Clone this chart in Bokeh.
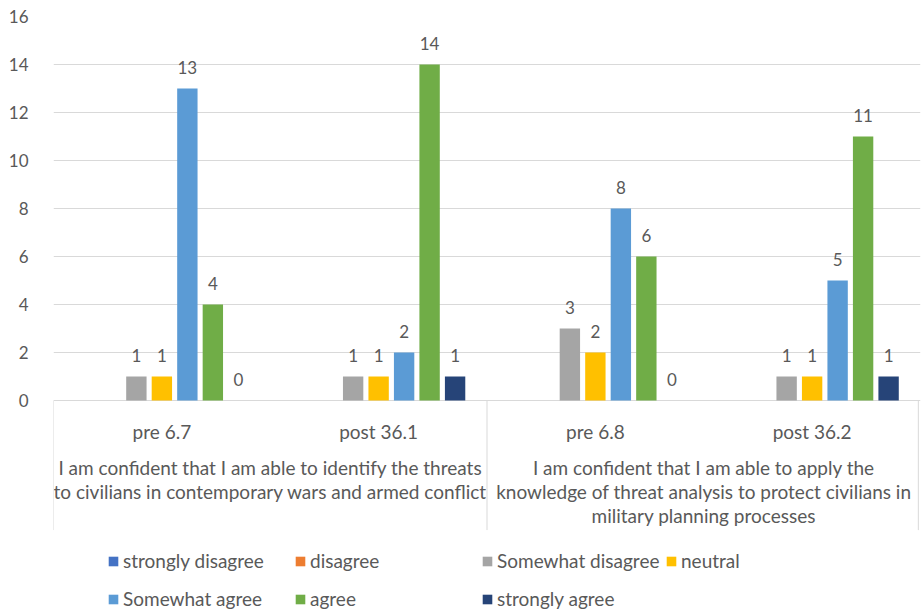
import math
from bokeh.plotting import figure
from bokeh.models import (ColumnDataSource, FactorRange, Range1d, FixedTicker,
                          Legend, LegendItem)
from bokeh.transform import dodge
from bokeh.core.properties import value
from bokeh.embed import file_html
from bokeh.resources import INLINE

NaN = float("nan")

categories = ["pre 6.7", "post 36.1", "pre 6.8", "post 36.2"]
statements = [
    "I am confident that I am able to identify the threats\nto civilians in contemporary wars and armed conflict",
    "I am confident that I am able to apply the\nknowledge of threat analysis to protect civilians in\nmilitary planning processes",
]
statement_anchor = ["post 36.1", "post 36.2"]
series_names = ["strongly disagree", "disagree", "Somewhat disagree", "neutral",
                "Somewhat agree", "agree", "strongly agree"]
series_colors = ["#4472C4", "#ED7D31", "#A5A5A5", "#FFC000",
                 "#5B9BD5", "#70AD47", "#264478"]

strongly_disagree = [NaN, NaN, NaN, NaN]
disagree = [NaN, NaN, NaN, NaN]
somewhat_disagree = [1, 1, 3, 1]
neutral = [1, 1, 2, 1]
somewhat_agree = [13, 2, 8, 5]
agree = [4, 14, 6, 11]
strongly_agree = [0, 1, 0, 1]
series_values = [strongly_disagree, disagree, somewhat_disagree, neutral,
                 somewhat_agree, agree, strongly_agree]
y_ticks = [0, 2, 4, 6, 8, 10, 12, 14, 16]

FONT = "Lato"
TXT = "#595959"
GRID = "#D9D9D9"

p = figure(width=922, height=610, output_backend="svg", toolbar_location=None,
           x_range=FactorRange(*categories, range_padding=0),
           y_range=Range1d(-8.75, 16),
           min_border_left=53, min_border_right=2, min_border_top=16,
           min_border_bottom=0)
p.outline_line_color = None
p.xaxis.visible = False
p.xgrid.grid_line_color = None
p.ygrid.ticker = FixedTicker(ticks=y_ticks)
p.ygrid.grid_line_color = GRID
p.ygrid.grid_line_width = 1
p.yaxis.ticker = FixedTicker(ticks=y_ticks)
p.yaxis.axis_line_color = None
p.yaxis.major_tick_line_color = None
p.yaxis.minor_tick_line_color = None
p.yaxis.major_label_standoff = 19
p.yaxis.major_label_text_font = FONT
p.yaxis.major_label_text_font_size = "17px"
p.yaxis.major_label_text_color = TXT

n = len(series_names)
slot = 0.1176
bar_w = 0.094
items = {}
for i, (name, color, vals) in enumerate(zip(series_names, series_colors, series_values)):
    off = (i - (n - 1) / 2) * slot
    labels = ["" if (isinstance(v, float) and math.isnan(v)) else str(v) for v in vals]
    src = ColumnDataSource(dict(cat=categories, val=vals, lab=labels,
                                lab_y=[0 if l == "" else v for l, v in zip(labels, vals)]))
    r = p.vbar(x=dodge("cat", off, range=p.x_range), top="val", width=bar_w,
               source=src, fill_color=color, line_color=None)
    items[name] = r
    p.text(x=dodge("cat", off, range=p.x_range), y="lab_y", text="lab", source=src,
           text_align="center", text_baseline="bottom", y_offset=-15,
           text_font=value(FONT), text_font_size="17px", text_color=TXT)

# category labels
csrc = ColumnDataSource(dict(cat=categories, y=[-1.3] * 4))
p.text(x="cat", y="y", text="cat", source=csrc, text_align="center",
       text_baseline="middle", text_font=value(FONT), text_font_size="19px",
       text_color=TXT)

# statement (group) labels
ssrc = ColumnDataSource(dict(cat=statement_anchor, txt=statements, y=[-2.3, -2.3]))
p.text(x=dodge("cat", -0.5, range=p.x_range), y="y", text="txt", source=ssrc,
       text_align="center", text_baseline="top", text_font=value(FONT),
       text_font_size="19px", text_color=TXT, text_line_height=1.06)

# divider lines below the axis
dsrc = ColumnDataSource(dict(cat=["pre 6.7", "pre 6.8"], y0=[0, 0], y1=[-5.4, -5.4]))
p.segment(x0=dodge("cat", -0.5, range=p.x_range), y0="y0",
          x1=dodge("cat", -0.5, range=p.x_range), y1="y1", source=dsrc,
          line_color=GRID, line_width=1)
esrc = ColumnDataSource(dict(cat=["post 36.2"], y0=[0], y1=[-5.4]))
p.segment(x0=dodge("cat", 0.49, range=p.x_range), y0="y0",
          x1=dodge("cat", 0.49, range=p.x_range), y1="y1", source=esrc,
          line_color=GRID, line_width=1)

# legend: four columns
columns = [["strongly disagree", "Somewhat agree"], ["disagree", "agree"],
           ["Somewhat disagree", "strongly agree"], ["neutral"]]
col_x = [54, 241, 428, 612]
for names, x in zip(columns, col_x):
    lg = Legend(items=[LegendItem(label=nm, renderers=[items[nm]]) for nm in names],
                location=(x, 0 if len(names) == 2 else 38), orientation="vertical",
                glyph_width=12, glyph_height=12, label_height=12, spacing=15,
                label_standoff=4, padding=0, margin=0, border_line_color=None,
                background_fill_alpha=0, label_text_font=FONT,
                label_text_font_size="19px", label_text_color=TXT)
    p.add_layout(lg, "center")

open("out.html", "w").write(file_html(p, INLINE))
